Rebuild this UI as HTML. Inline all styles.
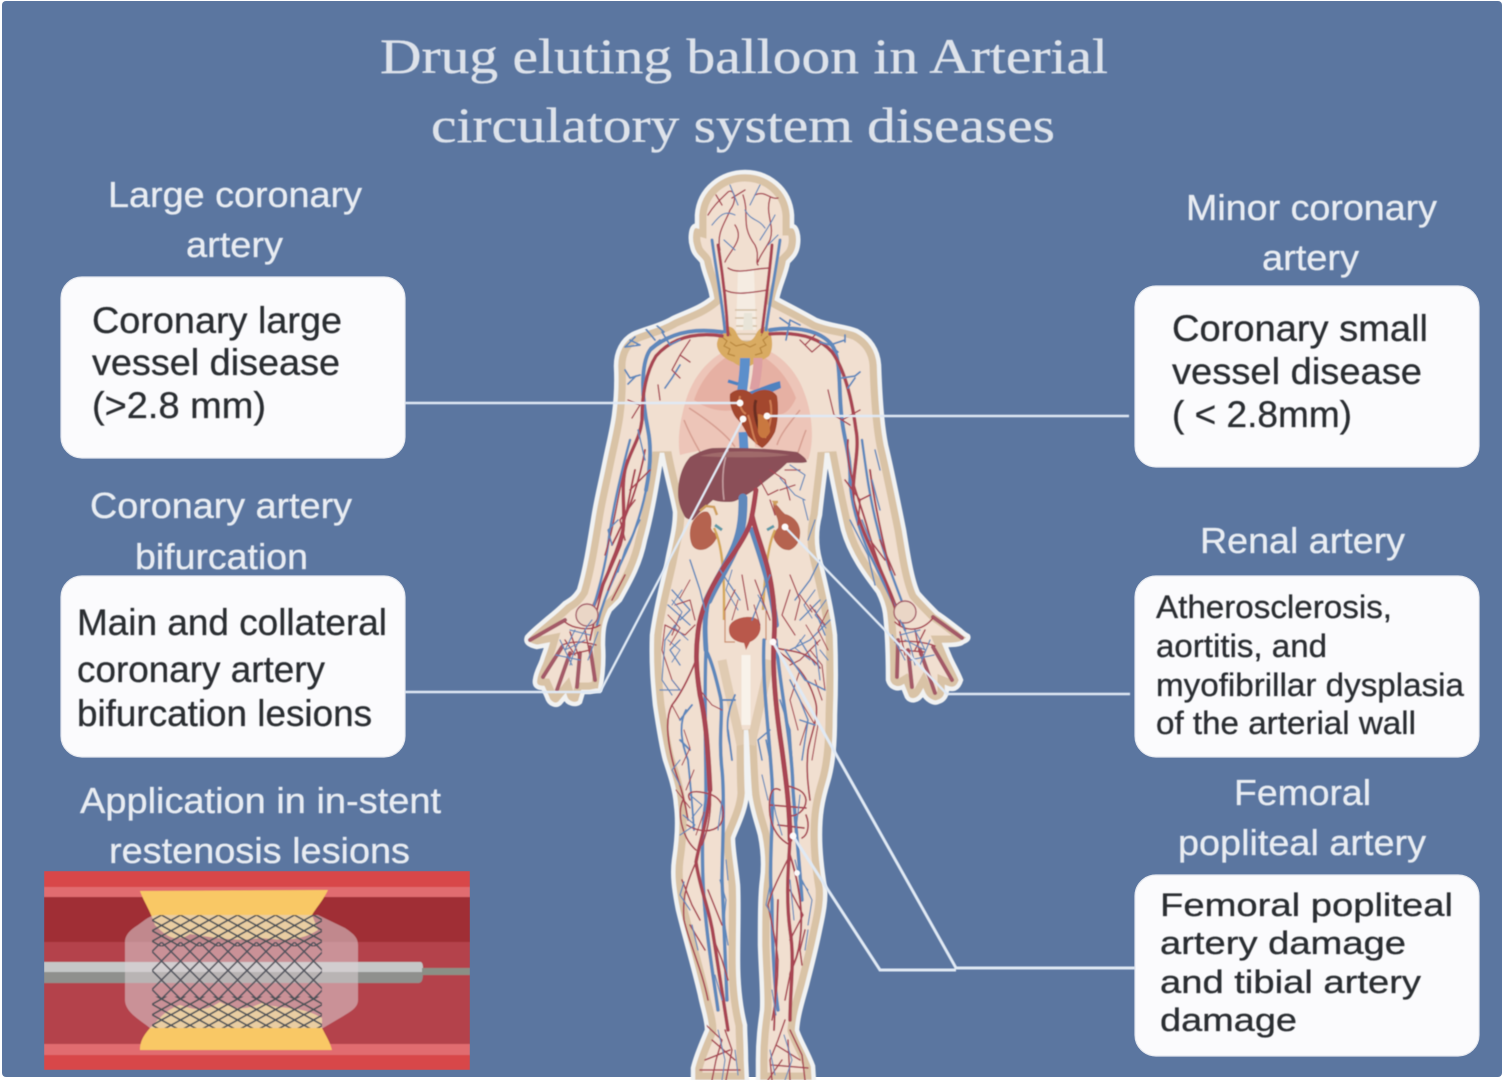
<!DOCTYPE html>
<html><head><meta charset="utf-8"><style>
html,body{margin:0;padding:0;background:#fff}
svg{display:block}
.t{font-family:"Liberation Serif",serif;font-size:50px;fill:#dde2ea;stroke:#dde2ea;stroke-width:.35}
.l{font-family:"Liberation Sans",sans-serif;font-size:36px;fill:#e8ecf2;stroke:#e8ecf2;stroke-width:.35}
.b{font-family:"Liberation Sans",sans-serif;fill:#2a2d33;stroke:#2a2d33;stroke-width:.3}
.r{fill:none;stroke:#a84552;stroke-linecap:round;stroke-linejoin:round}
.u{fill:none;stroke:#5f88bb;stroke-linecap:round;stroke-linejoin:round}
.c{fill:none;stroke:#e0e9f4;stroke-width:2.4;stroke-linejoin:miter}
</style></head><body>
<svg width="1505" height="1080" viewBox="0 0 1505 1080" xmlns="http://www.w3.org/2000/svg">
<defs>
<filter id="bl" x="-5%" y="-5%" width="110%" height="110%"><feGaussianBlur stdDeviation="0.6"/></filter>
<filter id="tb" x="-5%" y="-20%" width="110%" height="140%"><feGaussianBlur stdDeviation="0.45"/></filter>
<path id="body" d="M745,172 C722,172 699,188 697,215 L697,226 C690,224 690,240 692,246 C694,256 700,258 702,262 C704,274 710,284 712,298 C700,308 686,312 673,318 C660,326 646,328 633,334 C622,340 616,352 616,366 C617,385 616,400 614,415 C612,430 608,445 604,465 C600,485 596,500 593,520 C589,545 585,570 579,590 C574,598 570,600 565,603 C558,610 553,614 548,618 C540,625 533,630 527,637 C525,642 528,645 537,647 L547,645 C545,652 543,656 542,660 C539,668 536,672 535,680 C534,686 538,688 543,688 L547,697 C549,704 556,707 560,703 L565,697 C567,704 576,706 580,702 L583,692 L590,692 L600,690 C603,675 604,660 603,645 C603,630 604,622 610,610 L620,600 C630,582 640,565 645,540 C652,515 657,485 662,453 C666,475 672,495 675,512 C675,530 670,545 667,562 C662,585 655,610 652,635 C651,665 653,685 655,705 C658,725 661,745 665,760 C670,775 675,790 676,805 C678,820 677,840 674,860 C672,875 674,890 678,910 C684,935 693,965 700,995 C703,1010 707,1020 707,1030 C702,1042 696,1055 693,1068 L693,1082 L747,1082 L746,1060 C746,1045 745,1035 745,1025 C740,1005 738,985 738,960 C738,930 739,905 738,885 C736,865 733,850 733,838 C738,825 746,810 747,793 C746,775 746,750 746,730 C748,750 748,775 750,795 C752,810 756,820 760,835 C763,850 764,865 762,880 C760,895 760,920 760,945 C761,975 763,995 762,1010 C760,1025 758,1040 758,1060 L758,1082 L814,1082 L813,1066 C808,1052 800,1040 797,1030 C798,1015 803,1000 807,985 C812,965 816,950 820,930 C824,912 826,900 825,888 C822,870 820,852 820,835 C820,815 822,802 828,782 C833,765 835,745 835,715 C836,690 836,660 835,635 C832,610 826,585 820,560 C816,545 816,530 820,515 C822,495 825,475 827,453 C832,480 837,505 843,530 C850,555 865,575 878,592 C882,600 884,606 885,613 C887,630 888,650 888,680 C890,688 898,690 903,687 L907,697 C910,702 918,702 923,693 C926,700 934,704 938,702 C945,700 947,695 947,688 C952,690 958,690 961,680 C958,672 954,666 950,657 L945,645 C952,645 960,645 963,642 C968,640 969,638 968,636 C964,634 962,632 960,630 C952,624 945,618 937,613 C930,606 924,600 918,593 C912,580 908,555 904,530 C898,500 892,470 886,445 C882,425 880,395 879,365 C878,350 870,338 857,331 C845,326 830,326 816,320 C802,312 790,306 777,299 C780,285 786,274 788,262 C792,258 797,254 798,244 C799,236 797,226 792,226 L792,215 C790,188 768,172 745,172 Z"/>
<clipPath id="cb"><use href="#body"/></clipPath>
<pattern id="m1" x="152" y="915" width="19" height="10.5" patternUnits="userSpaceOnUse"><path d="M0,5.25 L9.5,0 L19,5.25 L9.5,10.5 Z" fill="none" stroke="#4c5157" stroke-width="1.6"/></pattern>
<pattern id="m2" x="152" y="942" width="19" height="19" patternUnits="userSpaceOnUse"><path d="M0,9.5 L9.5,0 L19,9.5 L9.5,19 Z" fill="none" stroke="#52545e" stroke-width="1.6"/></pattern>
<clipPath id="hb"><rect x="44" y="871" width="426" height="199"/></clipPath>
</defs>

<rect width="1505" height="1080" fill="#ffffff"/>
<rect x="2" y="1" width="1500" height="1076" rx="4" fill="#5b76a0"/>

<!-- title -->
<g filter="url(#tb)">
<text class="t" x="380" y="73" textLength="728" lengthAdjust="spacingAndGlyphs">Drug eluting balloon in Arterial</text>
<text class="t" x="431" y="142" textLength="624" lengthAdjust="spacingAndGlyphs">circulatory system diseases</text>
</g>

<!-- body -->
<g filter="url(#bl)">
<use href="#body" fill="#f1dfd0"/>
<g clip-path="url(#cb)"><use href="#body" fill="none" stroke="#d9c3a6" stroke-width="19"/></g>
<path d="M746,655 L746,725" stroke="#f8f2ea" stroke-width="9" fill="none"/>
<path d="M722,660 C728,690 736,720 741,745 M770,660 C764,690 756,720 751,745" stroke="#e0cbb2" stroke-width="9" fill="none"/>
<use href="#body" fill="none" stroke="#f1f2f2" stroke-width="4.5"/>

<!-- lungs -->
<path d="M727,350 C706,360 692,380 686,400 C680,420 677,440 680,455 C695,451 712,448 733,447 L745,447 L745,390 L740,360 Z" fill="#edc5b8"/>
<path d="M767,350 C785,358 798,375 804,392 C812,412 815,440 808,460 C798,455 790,453 780,452 L755,447 L750,390 L755,360 Z" fill="#edc5b8"/>
<path d="M728,356 C712,366 700,382 694,400 C708,410 722,412 734,410 L742,395 L740,362 Z" fill="#e6b0a3"/>
<path d="M762,356 C778,365 790,382 796,398 C790,412 782,416 776,414 L760,395 L756,362 Z" fill="#e6b0a3"/>
<path d="M689,408 C700,415 725,432 735,447 M684,420 C690,435 696,445 700,452 M800,410 C788,425 780,435 777,445 M806,430 C802,440 799,450 797,455" stroke="#d59d90" stroke-width="1.5" fill="none"/>

<!-- thyroid / trachea -->
<path d="M738,270 L754,270 L756,330 L736,330 Z" fill="#f5ece2"/>
<path d="M735,310 L757,310 M735,318 L757,318 M736,326 L757,326 M737,334 L756,334 M737,341 L756,341" stroke="#d4c0a6" stroke-width="1.6"/>
<path d="M744,313 L752,313 L753,330 L743,330 Z" fill="#e8e4d8"/>
<path d="M723,330 C726,324 734,326 737,334 C741,344 752,344 756,334 C760,326 768,324 770,332 C773,340 773,350 769,356 C764,360 756,362 750,366 C744,368 738,366 733,362 C726,360 716,352 717,343 C718,338 720,334 723,330 Z" fill="#d9ab62"/>
<path d="M722,337 l5,4 l-3,5 l6,3 l-2,5 l7,2 M768,336 l-5,4 l3,5 l-6,3 l2,5 l-7,2 M730,342 l6,4 l8,-2 l6,3 l6,-3 M728,330 l3,6 M764,330 l-3,6" stroke="#b8863e" stroke-width="1.2" fill="none"/>

<!-- great vessels & heart -->
<path d="M745,358 C745,372 743,382 742,392" stroke="#5b8fcb" stroke-width="10" fill="none"/>
<path d="M743,432 L744,450" stroke="#5b8fcb" stroke-width="9" fill="none"/>
<path d="M758,358 C758,370 756,380 754,390" stroke="#dd9fa2" stroke-width="9" fill="none"/>
<path d="M748,392 C756,390 768,384 780,381 L781,388 L770,393 L752,398 Z" fill="#4f82bf"/>
<path d="M728,381 L738,384" stroke="#4f82bf" stroke-width="3.5"/>
<path d="M730,394 C736,388 746,388 752,394 C760,388 772,388 777,396 C779,408 778,422 775,432 C771,440 766,446 762,448 C756,444 752,440 748,436 C744,428 742,424 738,420 C732,414 729,404 730,394 Z" fill="#a3472f"/>
<path d="M740,396 C738,404 742,412 746,414 M748,415 C752,425 752,436 757,444 M770,400 C773,412 771,424 765,438" stroke="#cf7d52" stroke-width="2" fill="none"/>
<path d="M756,400 C753,408 756,422 760,430" stroke="#6a2e22" stroke-width="3" fill="none"/>
<path d="M758,414 C764,414 770,420 770,432 C766,440 760,440 758,432 Z" fill="#c9783f"/>

<!-- liver -->
<path d="M690,457 C700,451 706,449 713,448 C740,447 775,449 797,452 C802,455 807,459 807,462 C800,464 794,462 787,463 C780,470 772,476 763,483 C755,490 750,493 743,497 C738,500 734,502 730,502 C724,502 718,502 713,500 C706,506 700,512 693,520 C690,520 687,519 685,517 C681,510 678,502 678,493 C678,480 682,466 690,457 Z" fill="#8b4f59"/>
<path d="M728,450 C722,465 722,485 724,500" stroke="#c59ea0" stroke-width="1.5" fill="none"/>
<path d="M700,456 C720,450 760,450 790,455 C770,458 730,458 700,456 Z" fill="#a06a6b"/>

<!-- kidneys -->
<path d="M693,521 C698,514 703,510 708,512 C712,516 712,522 711,528 C712,532 716,534 718,535 C716,541 712,546 706,549 C700,551 695,550 692,545 C689,538 689,528 693,521 Z" fill="#b5634f"/>
<path d="M773,503 C778,504 780,510 785,514 C793,516 799,522 800,530 C801,540 797,547 790,550 C783,551 778,546 775,541 C772,536 774,532 778,528 C779,522 777,516 774,512 Z" fill="#b5634f"/>
<path d="M700,511 l6,-5 l8,1 l3,8 M776,505 l-2,-3 l4,0" stroke="#cfa05f" stroke-width="2.5" fill="none"/>
<path d="M714,528 C720,540 724,560 724,600 L724,620 M775,530 C768,545 765,570 763,610" stroke="#d4a95c" stroke-width="2.5" fill="none"/>
<path d="M715,525 L722,530 M774,526 L767,530" stroke="#5f9aa8" stroke-width="3" fill="none"/>

<!-- bladder -->
<path d="M729,628 C730,618 750,614 757,619 C764,626 760,638 750,642 L746,650 L744,643 C736,642 728,638 729,628 Z" fill="#b9594c"/>
<path d="M725,610 L725,642 L735,642 M766,610 L766,640" stroke="#c98a6a" stroke-width="1.2" fill="none"/>

<g clip-path="url(#cb)">
<!-- trunk blue -->
<path class="u" stroke-width="9" d="M743,498 C743,515 742,530 736,545 C728,565 716,582 708,600"/>
<path class="u" stroke-width="5" d="M708,600 C704,620 705,635 706,650"/>
<path class="u" stroke-width="3.5" d="M706,650 C712,662 716,678 720,695 C724,710 718,735 722,770 C725,800 722,860 722,880 C724,920 725,960 727,1000"/>
<path class="u" stroke-width="3.5" d="M706,650 C704,690 706,760 706,800 C702,830 702,850 703,880 C705,930 714,980 718,1010"/>
<path class="u" stroke-width="6" d="M752,530 C762,560 772,590 776,625"/>
<path class="u" stroke-width="3.5" d="M764,640 C762,680 768,720 772,780 C774,820 768,870 772,900 C772,950 775,990 778,1010"/>
<path class="u" stroke-width="3.5" d="M776,640 C780,690 792,740 793,790 C796,830 800,870 802,900"/>
<!-- trunk red -->
<path class="r" stroke-width="5" d="M756,490 C754,505 753,512 751,520 C749,530 738,548 726,564 C714,582 704,600 699,625"/>
<path class="r" stroke-width="5" d="M699,625 C695,650 696,670 700,695 C706,720 708,750 710,790"/>
<path class="r" stroke-width="3.5" d="M710,790 C708,820 700,840 696,862 C700,890 710,910 714,940 C718,965 722,990 728,1030"/>
<path class="r" stroke-width="5" d="M752,515 C756,535 768,560 772,590 C775,610 775,625 774,640"/>
<path class="r" stroke-width="5" d="M774,640 C772,670 776,710 782,750 C786,780 790,810 790,840"/>
<path class="r" stroke-width="3.5" d="M790,840 C788,870 786,900 790,930 C795,960 790,990 790,1020"/>
<path class="r" stroke-width="2" d="M790,855 C798,880 804,910 800,940 C798,960 790,970 790,975 M778,900 C776,950 776,990 774,1030"/>
<!-- shoulders + arm arteries -->
<path class="u" stroke-width="4" d="M722,332 C695,328 670,332 650,350 C640,365 642,400 648,430 C652,450 650,470 646,490"/>
<path class="r" stroke-width="3.5" d="M722,336 C695,332 672,338 656,356 C646,372 642,395 642,420 C640,440 630,450 625,470 C620,495 628,520 620,545 C612,565 600,590 592,610"/>
<path class="u" stroke-width="4" d="M770,330 C795,326 820,330 832,345 C842,360 838,390 842,420 C844,440 852,460 850,485"/>
<path class="r" stroke-width="3.5" d="M770,334 C795,332 818,336 832,352 C845,370 852,400 856,430 C860,450 852,475 853,500 C860,530 880,565 895,605"/>
<path class="u" stroke-width="2.5" d="M646,490 C640,520 630,545 615,575 C608,590 602,605 597,625 M630,440 C622,470 612,510 608,545 C604,575 595,600 590,620 M850,485 C852,510 862,540 875,565 C884,585 895,605 905,630 M862,440 C866,470 870,500 878,530 C885,560 898,590 905,610"/>
<path class="r" stroke-width="2" d="M635,470 C628,500 625,530 612,560 C604,580 598,605 590,640 M645,450 C640,480 628,515 612,545 M848,440 C845,470 860,500 868,530 C876,560 888,585 900,625 M870,470 C874,500 880,530 890,570"/>
<!-- neck / head -->
<path class="u" stroke-width="3" d="M712,240 C716,270 722,300 725,332 M780,240 C776,270 770,300 766,330"/>
<path class="r" stroke-width="3" d="M718,245 C722,270 726,300 728,335 M772,245 C770,270 766,300 762,332"/>
<path class="r" stroke-width="1.4" d="M708,215 C714,205 720,200 728,192 C734,188 738,200 730,210 C726,222 716,232 720,250 M722,205 L716,195 M732,198 L745,190 M743,195 C750,215 740,225 755,245 C760,255 755,262 758,265 M755,195 C765,190 770,200 778,198 M770,198 C765,215 775,225 770,240 C765,250 760,255 758,262 M735,225 C745,240 730,250 725,262 M728,268 C738,275 755,268 770,268 M725,290 C735,296 755,292 768,290"/>
<path class="u" stroke-width="1.2" d="M712,225 C720,215 725,210 735,215 M745,210 C752,222 758,218 765,228 M775,215 C770,225 765,232 760,240 M724,240 L735,250 M768,245 L778,235 M730,185 L738,205 M760,185 L750,205"/>
</g>
<!-- branching -->
<g clip-path="url(#cb)">
<path class="u" stroke-width="1.8" d="M640,345 L630,340 M655,340 L645,328 M640,345 L625,347 L635,337 M650,348 L660,340 M640,375 L630,378 L625,370 M636,376 L628,384 M680,340 L670,345 L662,332 M664,332 L655,324 M820,342 L830,345 L845,340 M830,345 L838,352 M845,342 L845,335 M842,378 L855,376 L860,372 M855,378 L848,388 M786,340 L790,320 L800,325 M790,325 L780,318 M680,365 L672,378 M672,378 L665,388"/>
<path class="r" stroke-width="1.4" d="M690,340 L680,355 L672,370 M680,355 L690,362 M672,370 L680,378 M800,340 L812,352 L820,345 M805,345 L815,335 M658,385 L660,400 M628,400 L640,405 L632,418 M828,390 L834,415 L850,425 M842,420 L860,410"/>
<path class="r" stroke-width="1.6" d="M627,460 C618,490 616,520 605,555 M635,500 L620,520 L625,540 M650,470 L630,490 M845,480 L860,500 L870,495 M860,500 L858,525 M870,540 L885,560 M880,540 L895,575 M620,560 L608,590 M625,575 L612,600"/>
<path class="u" stroke-width="1.5" d="M618,520 L608,530 L612,545 M640,520 L625,550 L618,572 M850,520 L868,555 L875,585 M872,480 L880,510 M862,520 L870,540 M638,430 L645,460 M875,450 L880,470"/>
<!-- abdomen -->
<path class="r" stroke-width="1.3" d="M770,470 L785,480 L790,500 M780,490 L795,485 M785,470 L800,470 M775,515 L770,500 M760,480 L768,495 L778,490"/>
<path class="u" stroke-width="1.2" d="M790,465 L805,475 L800,490 M780,478 L795,495 M795,495 L805,500 M803,500 L808,520 M815,520 L808,540"/>
<path class="u" stroke-width="1.5" d="M690,560 L700,590 L705,610 M672,590 L690,610 L680,620 M668,605 L690,625 M680,640 L670,650 L680,665 M675,625 L665,640 M820,560 L810,580 L795,600 M820,600 L800,620 M830,620 L810,640 L790,650 M815,610 L825,635 M800,640 L815,665 M720,570 L740,600 M770,575 L760,600 L752,620"/>
<path class="r" stroke-width="1.3" d="M675,605 L690,600 L695,620 M665,625 L685,635 L695,625 M680,615 L672,635 M735,590 L725,610 M755,580 L770,620 M790,590 L782,615 L795,635 M790,575 L800,600 L795,620 M810,605 L825,625 M820,640 L800,660 L790,665 M742,575 L748,610"/>
<path class="u" stroke-width="1.1" d="M672,600 L682,612 L675,628 L688,640 M682,590 L672,605 M668,640 L680,650 L672,662 M815,590 L804,605 L812,618 M826,600 L815,615 L826,628 M805,635 L795,648 L810,660 M732,570 L726,590 L738,610 M758,595 L766,610"/>
<path class="r" stroke-width="1.1" d="M668,615 L680,628 L670,645 M690,580 L680,598 M828,610 L818,630 L828,650 M800,595 L812,612 M806,625 L818,645 M738,600 L732,620 M754,605 L760,625"/>
<!-- thigh left -->
<path class="r" stroke-width="1.8" d="M696,660 C688,680 680,695 672,705 C664,720 668,745 675,770 C680,785 685,800 688,820"/>
<path class="r" stroke-width="1.2" d="M680,690 L672,680 M665,625 L662,650 L672,680 M700,690 L712,705 L722,710 M672,705 L680,720"/>
<path class="u" stroke-width="2" d="M686,710 C678,725 682,745 688,760 C690,780 692,800 694,830 M692,705 L680,720 M680,740 L690,750 M735,695 C728,710 725,725 730,745 M735,700 L722,700 M728,730 L732,760"/>
<path class="u" stroke-width="1.2" d="M665,640 L662,680 L672,695 M660,690 L680,690 L672,680 M680,760 L672,770 L680,785"/>
<path class="r" stroke-width="1.6" d="M690,800 C684,790 698,790 712,795 C724,800 726,815 720,825 C710,835 695,830 687,825 M683,800 C676,815 684,840 696,850 M710,790 C712,810 708,830 702,845"/>
<path class="u" stroke-width="1.2" d="M683,815 L695,825 L680,835 M690,795 L702,805 L692,818 M722,800 L718,830 M726,860 L728,880"/>
<path class="r" stroke-width="1.1" d="M684,730 L690,748 L682,765 M694,770 L686,790 M676,790 L690,808 M704,812 L696,835"/>
<!-- calf left -->
<path class="r" stroke-width="1.6" d="M696,862 C688,880 682,895 684,920 C690,945 702,970 708,1000 M682,880 L692,905 L700,920 M708,890 L716,910 L722,925 M690,925 L705,950 M714,940 L722,960 L728,980"/>
<path class="u" stroke-width="1.3" d="M684,882 L680,895 L690,910 M692,925 L698,950 M720,880 L726,900 L724,920 L728,945 M715,975 L722,1000"/>
<path class="r" stroke-width="1.5" d="M706,1025 L722,1040 L716,1060 L712,1080 M725,1030 L732,1050 L726,1080 M712,1040 L735,1060 M705,1060 L730,1050 M700,1070 L740,1070"/>
<path class="u" stroke-width="1.1" d="M718,1030 L725,1060 L722,1080 M735,1050 L738,1075"/>
<!-- thigh right -->
<path class="r" stroke-width="1.7" d="M776,650 C790,660 806,670 815,700 C820,715 812,730 808,750 C806,770 808,785 810,800 M776,648 C792,652 808,650 820,668"/>
<path class="r" stroke-width="1.2" d="M800,670 L790,700 L798,730 M815,680 L822,700 M810,650 L822,665 L825,690 M800,700 L815,725 M808,720 L800,745 M818,725 L812,760"/>
<path class="u" stroke-width="1.6" d="M790,680 L800,700 L808,720 L802,760 M785,650 L805,680 L825,690 M770,730 L758,740 L762,760 M766,740 L772,770 M780,700 L790,730 L792,760 M800,720 L815,725"/>
<path class="u" stroke-width="1.2" d="M762,775 L768,800 M820,680 L815,640 M820,650 L828,660"/>
<path class="r" stroke-width="1.7" d="M780,790 C772,785 768,795 770,815 C772,830 780,840 790,845 M785,785 C795,788 805,790 806,800 C806,810 796,818 788,815 M806,815 C810,825 808,835 802,838 M770,805 L806,808 M778,825 L804,828"/>
<path class="u" stroke-width="1.2" d="M772,795 L776,815 L782,835 M800,795 L796,830 M795,860 L800,880 L808,890"/>
<!-- calf right -->
<path class="r" stroke-width="1.6" d="M790,855 C780,875 772,890 768,905 C772,925 776,940 778,960 C778,980 776,1000 772,1020 M790,890 L803,915 L790,940 M805,930 L800,950 L802,965 M790,975 L785,1000"/>
<path class="u" stroke-width="1.2" d="M802,880 L812,900 L808,925 M770,885 L766,905 L772,915 M805,950 L808,930 M790,880 L794,920 M772,990 L776,1015"/>
<path class="r" stroke-width="1.5" d="M785,1020 L778,1040 L770,1060 L772,1080 M790,1030 L802,1055 L805,1080 M776,1045 L800,1060 M772,1065 L808,1068 M788,1040 L790,1080 M768,1080 L782,1060"/>
<path class="u" stroke-width="1.1" d="M784,1035 L792,1060 L785,1080 M770,1050 L775,1075"/>
<!-- left hand -->
<circle cx="587" cy="615" r="11" fill="#ead6c6" stroke="#a55a68" stroke-width="1.4"/>
<path d="M530,640 L565,620 M543,677 L562,647 M557,690 L570,653 M577,687 L580,653 M595,680 L590,647" fill="none" stroke="#a45a68" stroke-width="4" stroke-linecap="round"/>
<path class="r" stroke-width="1.5" d="M565,622 C572,628 590,632 600,625 M562,645 C575,640 585,642 596,645 M568,655 L590,650 M570,632 L580,660 M585,630 L590,655 M565,640 L575,655"/>
<path class="u" stroke-width="1.2" d="M592,620 C580,635 574,650 570,665 M585,640 L565,650 L575,630 M570,630 L590,635 M560,640 L572,665 M598,632 L588,660 M556,655 L580,660"/>
<!-- right hand -->
<circle cx="905" cy="612" r="11" fill="#ead6c6" stroke="#a55a68" stroke-width="1.4"/>
<path d="M962,638 L933,617 M897,677 L898,640 M912,687 L908,650 M935,693 L920,650 M952,680 L933,647" fill="none" stroke="#a45a68" stroke-width="4" stroke-linecap="round"/>
<path class="r" stroke-width="1.5" d="M895,622 C905,632 922,632 933,618 M895,642 C908,640 925,642 935,646 M900,632 L905,655 M915,630 L920,655 M925,630 L915,650 M900,650 L925,652"/>
<path class="u" stroke-width="1.2" d="M900,620 C908,635 912,650 915,665 M905,640 L925,650 L915,630 M920,630 L900,635 M930,640 L920,665 M892,635 L905,660 M934,655 L910,660"/>
</g>
</g>

<!-- boxes -->
<g fill="#fbfbfd" stroke="#e4e7ee" stroke-width="1.2">
<rect x="61" y="277" width="344" height="181" rx="21"/>
<rect x="1135" y="286" width="344" height="181" rx="21"/>
<rect x="61" y="576" width="344" height="181" rx="21"/>
<rect x="1135" y="576" width="344" height="181" rx="21"/>
<rect x="1135" y="875" width="344" height="181" rx="21"/>
</g>

<!-- connectors -->
<g filter="url(#tb)">
<path class="c" d="M405,403 L740,403"/>
<path class="c" d="M767,416 L1129,416"/>
<path class="c" d="M405,692 L600,692 L743,419"/>
<path class="c" d="M785,527 L947,694 L1130,694"/>
<path class="c" style="stroke-width:3" d="M773,642 L956,968 L1135,968"/>
<path class="c" style="stroke-width:3" d="M793,836 L880,970 L956,970"/>
<g fill="#fdfafa"><circle cx="740" cy="403" r="3.5"/><circle cx="743" cy="419" r="3.5"/><circle cx="767" cy="416" r="3.5"/><circle cx="785" cy="527" r="3.5"/><circle cx="773" cy="642" r="3.5"/><circle cx="793" cy="836" r="3.5"/><circle cx="797" cy="873" r="3"/></g>
</g>

<!-- stent -->
<g clip-path="url(#hb)" filter="url(#bl)">
<rect x="44" y="871" width="426" height="16" fill="#d8474a"/>
<rect x="44" y="887" width="426" height="10" fill="#e16c70"/>
<rect x="44" y="897" width="426" height="45" fill="#a02f36"/>
<rect x="44" y="942" width="426" height="102" fill="#b4434c"/>
<rect x="44" y="1044" width="426" height="11" fill="#e16c70"/>
<rect x="44" y="1055" width="426" height="15" fill="#d8474a"/>
<path d="M140,891 L328,890 C322,902 316,908 312,915 L318,930 C300,942 280,940 260,938 C240,942 215,938 190,934 C175,944 165,935 155,925 C150,910 144,902 140,891 Z" fill="#f9c865"/>
<path d="M150,1028 C158,1020 165,1010 180,1005 C195,1010 205,1012 220,1002 C240,1012 250,1008 262,1003 C280,1010 300,1005 322,1018 L322,1028 C326,1036 330,1042 332,1050 L140,1050 C140,1040 145,1034 150,1028 Z" fill="#f9c865"/>
<path d="M44,962 H420 C423,962 423,966 423,972 C423,980 422,983 418,983 H44 Z" fill="#8f908d"/>
<path d="M44,962 H420 C423,962 423,966 423,972 H44 Z" fill="#c5c7c7"/>
<rect x="422" y="968" width="48" height="7" fill="#8b8f86"/>
<path d="M125,942 C125,935 130,930 138,925 C145,920 150,915 158,915 L318,915 L345,928 C354,934 358,938 358,945 L358,1000 C358,1008 350,1012 340,1018 L323,1028 L150,1028 C140,1020 125,1012 125,1000 Z" fill="#dcd2d6" fill-opacity="0.55"/>
<rect x="152" y="915" width="170" height="31.5" fill="url(#m1)"/>
<rect x="152" y="942" width="170" height="57" fill="url(#m2)"/>
<rect x="152" y="996.5" width="170" height="31.5" fill="url(#m1)"/>
</g>

<g filter="url(#tb)">
<!-- labels -->
<text class="l" x="108" y="207" textLength="254" lengthAdjust="spacingAndGlyphs">Large coronary</text>
<text class="l" x="186" y="257" textLength="97" lengthAdjust="spacingAndGlyphs">artery</text>
<text class="l" x="1186" y="220" textLength="251" lengthAdjust="spacingAndGlyphs">Minor coronary</text>
<text class="l" x="1262" y="270" textLength="97" lengthAdjust="spacingAndGlyphs">artery</text>
<text class="l" x="90" y="518" textLength="262" lengthAdjust="spacingAndGlyphs">Coronary artery</text>
<text class="l" x="135" y="569" textLength="173" lengthAdjust="spacingAndGlyphs">bifurcation</text>
<text class="l" x="1200" y="553" textLength="205" lengthAdjust="spacingAndGlyphs">Renal artery</text>
<text class="l" x="1234" y="805" textLength="137" lengthAdjust="spacingAndGlyphs">Femoral</text>
<text class="l" x="1178" y="855" textLength="248" lengthAdjust="spacingAndGlyphs">popliteal artery</text>
<text class="l" x="80" y="813" textLength="361" lengthAdjust="spacingAndGlyphs">Application in in-stent</text>
<text class="l" x="109" y="863" textLength="301" lengthAdjust="spacingAndGlyphs">restenosis lesions</text>

<!-- box text -->
<g class="b" font-size="37">
<text x="92" y="333" textLength="250" lengthAdjust="spacingAndGlyphs">Coronary large</text>
<text x="92" y="375" textLength="248" lengthAdjust="spacingAndGlyphs">vessel disease</text>
<text x="92" y="418" textLength="174" lengthAdjust="spacingAndGlyphs">(&gt;2.8 mm)</text>
<text x="1172" y="341" textLength="256" lengthAdjust="spacingAndGlyphs">Coronary small</text>
<text x="1172" y="384" textLength="250" lengthAdjust="spacingAndGlyphs">vessel disease</text>
<text x="1172" y="427" textLength="180" lengthAdjust="spacingAndGlyphs">( &lt; 2.8mm)</text>
<text x="77" y="635" textLength="310" lengthAdjust="spacingAndGlyphs">Main and collateral</text>
<text x="77" y="682" textLength="248" lengthAdjust="spacingAndGlyphs">coronary artery</text>
<text x="77" y="726" textLength="295" lengthAdjust="spacingAndGlyphs">bifurcation lesions</text>
</g>
<g class="b" font-size="32">
<text x="1156" y="618" textLength="236" lengthAdjust="spacingAndGlyphs">Atherosclerosis,</text>
<text x="1156" y="657" textLength="171" lengthAdjust="spacingAndGlyphs">aortitis, and</text>
<text x="1156" y="696" textLength="308" lengthAdjust="spacingAndGlyphs">myofibrillar dysplasia</text>
<text x="1156" y="734" textLength="260" lengthAdjust="spacingAndGlyphs">of the arterial wall</text>
<text x="1160" y="916" textLength="293" lengthAdjust="spacingAndGlyphs">Femoral popliteal</text>
<text x="1160" y="954" textLength="246" lengthAdjust="spacingAndGlyphs">artery damage</text>
<text x="1160" y="993" textLength="261" lengthAdjust="spacingAndGlyphs">and tibial artery</text>
<text x="1160" y="1031" textLength="137" lengthAdjust="spacingAndGlyphs">damage</text>
</g>
</g>
</svg>
</body></html>
